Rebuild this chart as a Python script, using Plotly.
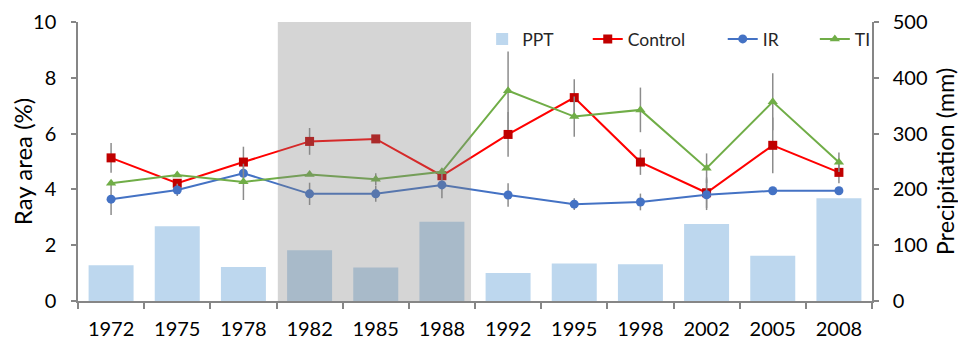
import plotly.graph_objects as go

years = ["1972", "1975", "1978", "1982", "1985", "1988", "1992", "1995", "1998", "2002", "2005", "2008"]
ppt = [64, 134, 61, 91, 60, 142, 50, 67, 66, 138, 81, 184]
control = [5.13, 4.22, 4.98, 5.72, 5.81, 4.49, 5.97, 7.29, 4.98, 3.88, 5.58, 4.61]
control_err = [0.53, 0.0, 0.55, 0.48, 0.0, 0.0, 0.80, 0.66, 0.46, 0.55, 1.00, 0.39]
ir = [3.65, 3.98, 4.58, 3.84, 3.84, 4.16, 3.80, 3.47, 3.55, 3.81, 3.95, 3.95]
ir_err = [0.57, 0.22, 0.0, 0.40, 0.28, 0.48, 0.42, 0.21, 0.30, 0.55, 0.0, 0.0]
ti = [4.22, 4.52, 4.27, 4.53, 4.36, 4.63, 7.54, 6.61, 6.85, 4.76, 7.14, 4.97]
ti_err = [0.0, 0.0, 0.65, 0.0, 0.22, 0.0, 1.40, 0.72, 0.80, 0.53, 1.02, 0.35]
shade_start, shade_end = "1982", "1988"

FONT = "Lato"
err_style = dict(type="data", thickness=1.5, width=0, color="#8c8c8c")

fig = go.Figure()
fig.add_trace(go.Bar(x=years, y=ppt, name="PPT", marker=dict(color="#bdd7ee", line=dict(width=0)),
                     yaxis="y2", legend="legend"))
fig.add_trace(go.Scatter(x=years, y=control, name="Control", mode="lines+markers",
                         line=dict(color="#ff0000", width=2),
                         marker=dict(symbol="square", size=9, color="#c00000"),
                         error_y=dict(array=control_err, **err_style), legend="legend2"))
fig.add_trace(go.Scatter(x=years, y=ir, name="IR", mode="lines+markers",
                         line=dict(color="#4472c4", width=2),
                         marker=dict(symbol="circle", size=9, color="#4472c4"),
                         error_y=dict(array=ir_err, **err_style), legend="legend3"))
fig.add_trace(go.Scatter(x=years, y=ti, name="TI", mode="lines+markers",
                         line=dict(color="#70ad47", width=2),
                         marker=dict(symbol="triangle-up", size=9, color="#70ad47"),
                         error_y=dict(array=ti_err, **err_style), legend="legend4"))

i0 = years.index(shade_start)
i1 = years.index(shade_end)
fig.add_shape(type="rect", xref="x", yref="paper", x0=i0 - 0.48, x1=i1 + 0.44, y0=0, y1=1,
              fillcolor="rgba(126,126,126,0.33)", line=dict(width=0), layer="above")

axis_line = "#868686"
leg_common = dict(orientation="h", xanchor="left", y=0.939, yanchor="middle",
                  font=dict(size=17.5, color="#262626"), bgcolor="rgba(0,0,0,0)")

fig.update_layout(
    template="none",
    width=966, height=339,
    margin=dict(l=70, r=102, t=14, b=46, pad=0),
    paper_bgcolor="white", plot_bgcolor="white",
    font=dict(family=FONT, size=20, color="#000000"),
    bargap=0.32,
    showlegend=True,
    legend=dict(x=0.509, **leg_common),
    legend2=dict(x=0.642, **leg_common),
    legend3=dict(x=0.812, **leg_common),
    legend4=dict(x=0.928, **leg_common),
    xaxis=dict(type="category", range=[-0.5, 11.5], showline=True, linecolor=axis_line, linewidth=1.5,
               ticks="outside", tickson="boundaries", ticklen=6, tickcolor=axis_line, tickwidth=1.5,
               showgrid=False, tickfont=dict(size=20), zeroline=False, automargin=False,
               ticklabelstandoff=9),
    yaxis=dict(range=[0, 10], dtick=2, showline=True, linecolor=axis_line, linewidth=1.5,
               ticks="outside", ticklen=5, tickcolor=axis_line, tickwidth=1.5, showgrid=False,
               zeroline=False, tickfont=dict(size=20), automargin=False, ticklabelstandoff=11,
               title=dict(text="Ray area (%)", font=dict(size=24), standoff=8)),
    yaxis2=dict(range=[0, 500], dtick=100, overlaying="y", side="right", showline=True,
                linecolor=axis_line, linewidth=1.5, ticks="outside", ticklen=5, tickcolor=axis_line,
                tickwidth=1.5, showgrid=False, zeroline=False, tickfont=dict(size=20), automargin=False,
                ticklabelstandoff=10,
                title=dict(text="Precipitation (mm)", font=dict(size=23.5), standoff=11)),
)

fig.write_html("out.html")
